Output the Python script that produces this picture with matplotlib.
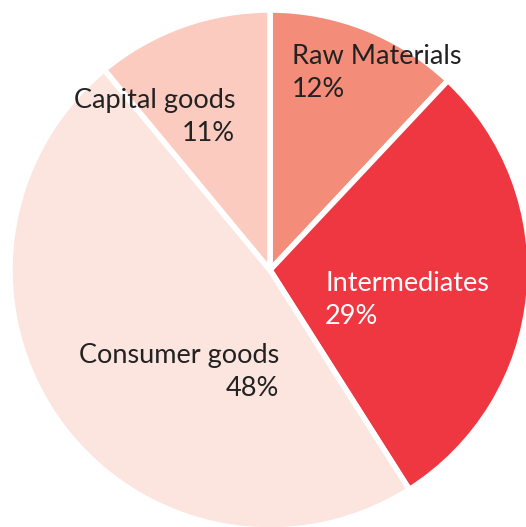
import matplotlib.pyplot as plt

categories = ['Raw Materials', 'Intermediates', 'Consumer goods', 'Capital goods']
shares = [12, 29, 48, 11]
colors = ['#F48C7A', '#EF3742', '#FCE5DF', '#FBCBC0']
text_colors = ['#222222', '#FFFFFF', '#222222', '#222222']

W, H = 526, 527
cx, cy, r = 270, 270, 260

fig = plt.figure(figsize=(W / 100, H / 100), dpi=100)
ax = fig.add_axes([0, 0, 1, 1])
ax.pie(shares, colors=colors, startangle=90, counterclock=False, radius=1,
       wedgeprops=dict(edgecolor='white', linewidth=4))
ax.set_xlim(-cx / r, (W - cx) / r)
ax.set_ylim(-(H - cy) / r, cy / r)
ax.set_aspect('auto')
ax.axis('off')

def px(x, y):
    # pixel (from top-left) to data coords
    return (x - cx) / r, (cy - y) / r

# label anchor points in pixels and alignment
label_pos = [(292, 73, 'left'), (325, 300, 'left'), (279, 372, 'right'), (235, 117, 'right')]

for cat, val, tc, (x, y, ha) in zip(categories, shares, text_colors, label_pos):
    tx, ty = px(x, y)
    ax.text(tx, ty, f'{cat}\n{val}%', ha=ha, va='center', fontsize=19.5,
            color=tc, family='Lato', linespacing=1.4, zorder=5)

fig.savefig('out.png', dpi=100)
